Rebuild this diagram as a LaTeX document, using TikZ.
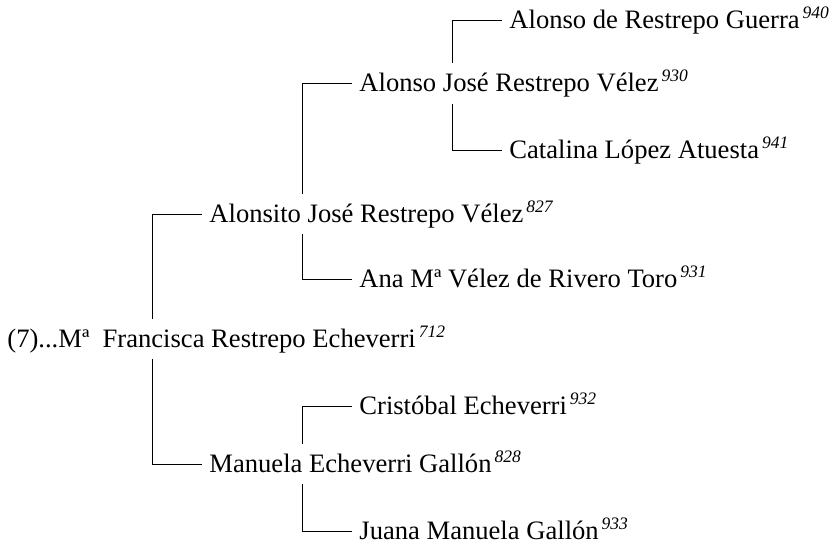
\documentclass[tikz,border=0pt]{standalone}
\usepackage{fontspec}
\setmainfont{Liberation Serif}
\newcommand{\gennum}[1]{\kern3pt\raisebox{10pt}{\fontsize{17.5}{17.5}\selectfont\itshape #1}}

\begin{document}
\begin{tikzpicture}[x=1pt, y=-1pt, line width=0.8pt,
    person/.style={anchor=west, inner xsep=7pt, inner ysep=11.5pt,
        text height=17pt, text depth=0pt, font=\fontsize{26.6}{30}\selectfont}]
    \useasboundingbox (0,0) rectangle (834,548);

    % root
    \node[person] (p712) at (0,339) {(7)...Mª\ \ Francisca Restrepo Echeverri\gennum{712}};

    % parents
    \node[person] (p827) at (202,214) {Alonsito José Restrepo Vélez\gennum{827}};
    \node[person] (p828) at (202,464) {Manuela Echeverri Gallón\gennum{828}};

    % grandparents
    \node[person] (p930) at (352,83.5) {Alonso José Restrepo Vélez\gennum{930}};
    \node[person] (p931) at (352,279) {Ana Mª Vélez de Rivero Toro\gennum{931}};
    \node[person] (p932) at (352,406) {Cristóbal Echeverri\gennum{932}};
    \node[person] (p933) at (352,531) {Juana Manuela Gallón\gennum{933}};

    % great-grandparents
    \node[person] (p940) at (502,20) {Alonso de Restrepo Guerra\gennum{940}};
    \node[person] (p941) at (502,150) {Catalina López Atuesta\gennum{941}};

    \draw ([xshift=152pt]p712.north west) |- (p827.west);
    \draw ([xshift=152pt]p712.south west) |- (p828.west);
    \draw ([xshift=100pt]p827.north west) |- (p930.west);
    \draw ([xshift=100pt]p827.south west) |- (p931.west);
    \draw ([xshift=100pt]p828.north west) |- (p932.west);
    \draw ([xshift=100pt]p828.south west) |- (p933.west);
    \draw ([xshift=100pt]p930.north west) |- (p940.west);
    \draw ([xshift=100pt]p930.south west) |- (p941.west);
\end{tikzpicture}
\end{document}
